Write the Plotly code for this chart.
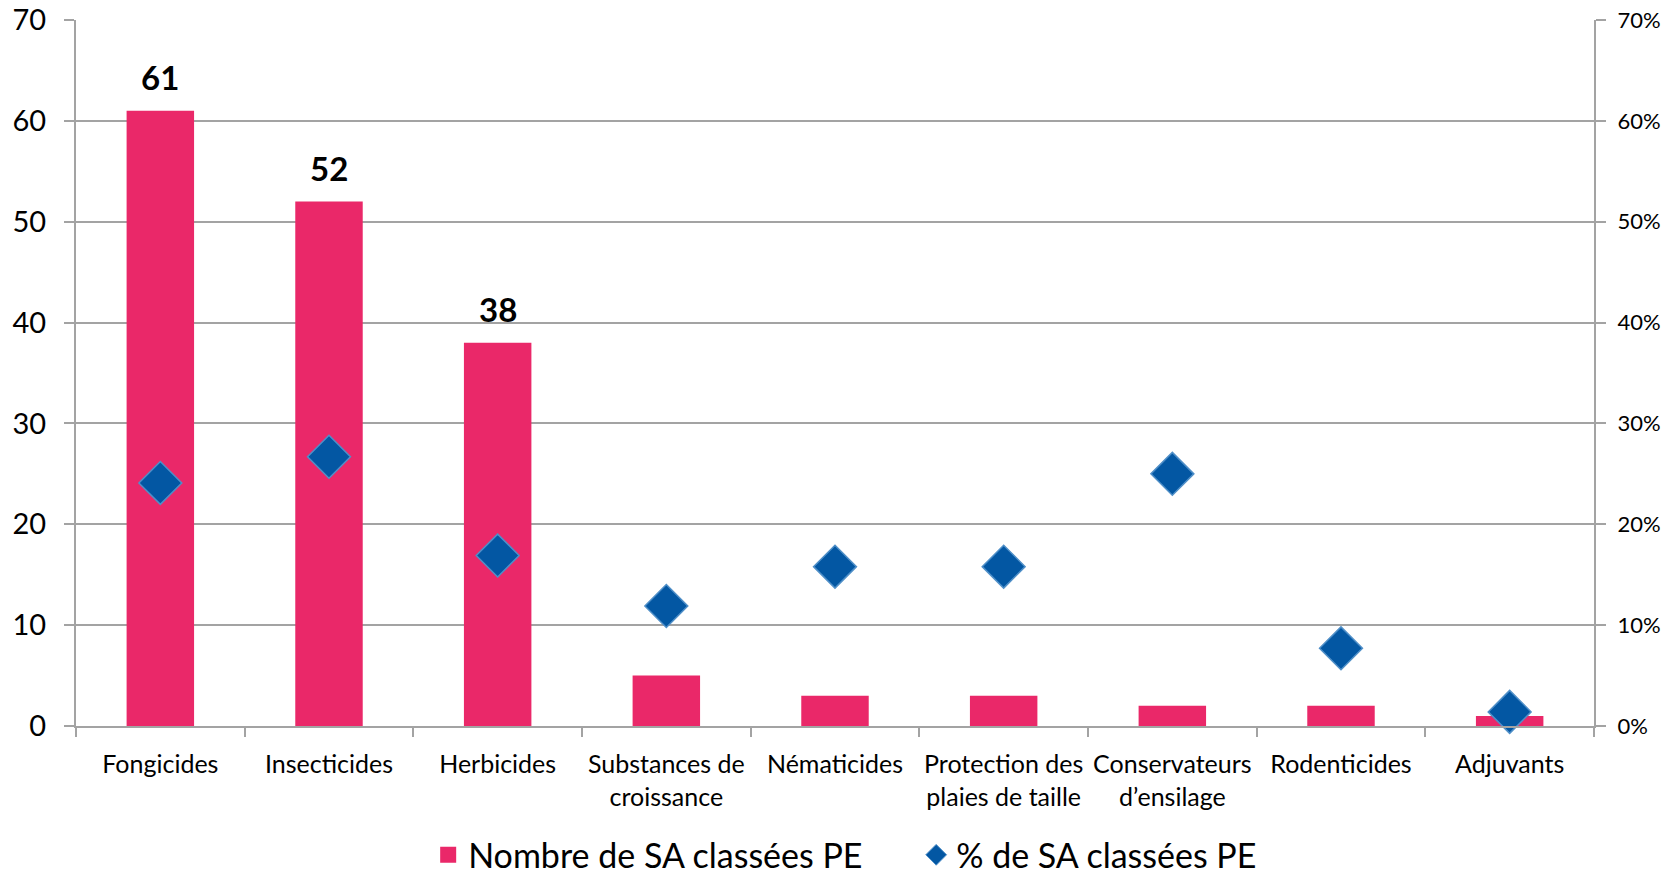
import plotly.graph_objects as go

categories = ["Fongicides", "Insecticides", "Herbicides", "Substances de<br>croissance",
              "Nématicides", "Protection des<br>plaies de taille", "Conservateurs<br>d’ensilage",
              "Rodenticides", "Adjuvants"]
counts = [61, 52, 38, 5, 3, 3, 2, 2, 1]
percents = [0.241, 0.267, 0.169, 0.119, 0.158, 0.158, 0.25, 0.077, 0.014]
label_threshold = 10

FONT = "Lato"
GRID = "#a3a3a3"
BAR_COLOR = "#EA2869"
DIA_COLOR = "#0357A3"
DIA_EDGE = "#4F8FC8"
BAR_NAME = "Nombre de SA classées PE"
PCT_NAME = "% de SA classées PE"

fig = go.Figure()
fig.add_trace(go.Bar(
    x=categories, y=counts, name=BAR_NAME, showlegend=False,
    marker=dict(color=BAR_COLOR, line=dict(width=0)),
    width=0.4, yaxis="y",
))
fig.add_trace(go.Scatter(
    x=categories, y=percents, name=PCT_NAME, mode="markers", showlegend=False,
    marker=dict(symbol="diamond", size=33, color=DIA_COLOR,
                line=dict(color=DIA_EDGE, width=1.5)),
    yaxis="y2", cliponaxis=False,
))
# legend-only entries (larger legend symbols)
fig.add_trace(go.Scatter(
    x=[None], y=[None], name=BAR_NAME, mode="markers",
    marker=dict(symbol="square", size=16, color=BAR_COLOR),
))
fig.add_trace(go.Scatter(
    x=[None], y=[None], name=PCT_NAME, mode="markers",
    marker=dict(symbol="diamond", size=16, color=DIA_COLOR,
                line=dict(color=DIA_EDGE, width=1)),
))

for cat, v in zip(categories, counts):
    if v >= label_threshold:
        fig.add_annotation(x=cat, y=v, xref="x", yref="y", text=str(v),
                           showarrow=False, yanchor="bottom", yshift=12,
                           font=dict(family=FONT, size=33, color="black", weight="bold"))

fig.update_layout(
    width=1653, height=864,
    margin=dict(l=68, r=67, t=12, b=146, autoexpand=False),
    paper_bgcolor="white", plot_bgcolor="white",
    font=dict(family=FONT, color="black"),
    showlegend=True,
    legend=dict(orientation="h", x=0.232, xanchor="left", y=-0.183, yanchor="middle",
                font=dict(family=FONT, size=34), itemsizing="trace",
                tracegroupgap=0, entrywidth=443),
    xaxis=dict(
        type="category", tickson="boundaries", ticks="outside", ticklen=9,
        tickcolor=GRID, tickwidth=2, showline=True, linecolor=GRID, linewidth=2,
        showgrid=False, tickfont=dict(family=FONT, size=25), range=[-0.5, 8.5],
        ticklabelstandoff=15, automargin=False, tickangle=0,
    ),
    yaxis=dict(
        range=[0, 70], dtick=10, showgrid=True, gridcolor=GRID, gridwidth=2,
        showline=True, linecolor=GRID, linewidth=2, ticks="outside", ticklen=10,
        tickcolor=GRID, tickwidth=2, tickfont=dict(family=FONT, size=29), zeroline=False,
        automargin=False, ticklabelstandoff=12, ticklabeloverflow="allow",
    ),
    yaxis2=dict(
        range=[0, 0.7], dtick=0.1, tickformat=".0%", overlaying="y", side="right",
        showgrid=False, showline=True, linecolor=GRID, linewidth=2, ticks="outside",
        ticklen=10, tickcolor=GRID, tickwidth=2, tickfont=dict(family=FONT, size=22),
        zeroline=False, automargin=False, ticklabelstandoff=7, ticklabeloverflow="allow",
    ),
)

fig.write_html("out.html")
